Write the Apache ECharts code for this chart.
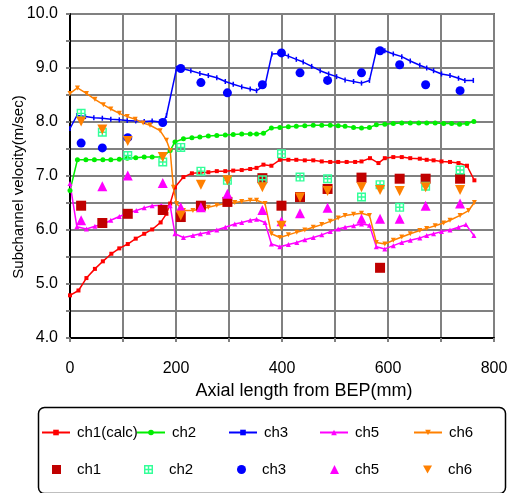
<!DOCTYPE html>
<html>
<head>
<meta charset="utf-8">
<script src="https://cdn.jsdelivr.net/npm/echarts@6/dist/echarts.min.js"></script>
<style>
html, body { margin: 0; padding: 0; background: #fff; }
#chart { width: 511px; height: 493px; }
</style>
</head>
<body>
<div id="chart"></div>
<script>
// calculated profiles [axial length mm, velocity m/s]
var ch1Calc = [[0,4.79],[16,4.88],[31,5.11],[47,5.28],[62,5.42],[78,5.56],[93,5.66],[109,5.74],[124,5.84],[140,5.93],[155,6.01],[171,6.14],[182,6.30],[189,6.49],[198,6.79],[214,6.98],[230,7.05],[246,7.06],[261,7.07],[277,7.09],[293,7.09],[308,7.10],[324,7.11],[340,7.13],[352,7.15],[365,7.21],[380,7.19],[396,7.30],[412,7.30],[427,7.30],[443,7.29],[459,7.29],[475,7.27],[491,7.26],[506,7.26],[522,7.26],[538,7.26],[550,7.27],[566,7.33],[582,7.24],[594,7.33],[610,7.35],[626,7.35],[642,7.33],[660,7.32],[673,7.30],[686,7.29],[701,7.27],[717,7.26],[733,7.24],[749,7.19],[763,6.92]];
var ch2Calc = [[0,6.73],[14,7.30],[30,7.30],[46,7.30],[62,7.30],[77,7.30],[93,7.31],[108,7.33],[124,7.34],[140,7.35],[155,7.35],[173,7.35],[189,7.47],[198,7.63],[214,7.69],[230,7.71],[245,7.72],[261,7.74],[277,7.75],[293,7.76],[308,7.77],[324,7.78],[340,7.78],[352,7.78],[365,7.79],[380,7.89],[396,7.90],[412,7.91],[427,7.92],[443,7.93],[459,7.94],[475,7.94],[491,7.94],[506,7.93],[519,7.92],[535,7.90],[550,7.89],[565,7.90],[578,7.95],[594,7.96],[610,7.97],[626,7.98],[642,7.98],[658,7.98],[673,7.98],[689,7.98],[705,7.97],[720,7.97],[735,7.96],[749,7.97],[762,8.01]];
var ch3Calc = [[0,7.88],[13,8.12],[29,8.10],[45,8.08],[61,8.07],[77,8.05],[93,8.04],[108,8.03],[124,8.02],[140,8.01],[155,8.02],[170,8.00],[176,8.00],[182,8.12],[201,8.99],[211,8.99],[228,8.95],[245,8.90],[261,8.86],[277,8.82],[293,8.75],[308,8.70],[324,8.65],[340,8.61],[352,8.58],[368,8.68],[381,9.26],[396,9.27],[412,9.22],[427,9.16],[440,9.11],[456,9.03],[472,8.95],[488,8.89],[503,8.84],[519,8.78],[535,8.75],[550,8.72],[565,8.77],[578,9.32],[594,9.32],[610,9.26],[626,9.21],[642,9.13],[660,9.05],[673,9.00],[686,8.95],[701,8.89],[717,8.86],[733,8.81],[745,8.77],[761,8.77]];
var ch5Calc = [[0,6.86],[13,6.06],[31,6.02],[47,6.07],[63,6.11],[77,6.18],[93,6.25],[109,6.31],[125,6.36],[140,6.41],[155,6.45],[172,6.46],[189,6.45],[198,5.93],[214,5.86],[232,5.90],[246,5.93],[261,5.96],[277,6.00],[293,6.05],[311,6.11],[324,6.14],[340,6.18],[352,6.20],[368,6.14],[380,5.74],[396,5.69],[412,5.73],[428,5.77],[443,5.82],[459,5.86],[475,5.91],[491,5.97],[506,6.02],[519,6.05],[535,6.08],[550,6.11],[565,6.09],[578,5.69],[594,5.65],[610,5.71],[626,5.77],[642,5.81],[660,5.85],[673,5.90],[686,5.93],[701,5.97],[717,6.00],[733,6.05],[747,6.10],[762,5.90]];
var ch6Calc = [[0,8.53],[14,8.63],[31,8.53],[47,8.42],[63,8.32],[77,8.24],[93,8.16],[108,8.10],[123,8.05],[138,7.98],[151,7.94],[170,7.84],[182,7.66],[189,7.47],[195,6.79],[201,6.49],[214,6.36],[232,6.36],[246,6.39],[261,6.42],[277,6.46],[293,6.49],[311,6.51],[324,6.53],[340,6.55],[352,6.55],[368,6.49],[380,5.93],[396,5.86],[412,5.91],[428,5.96],[443,6.00],[459,6.05],[475,6.10],[491,6.16],[506,6.22],[519,6.27],[535,6.29],[550,6.31],[565,6.27],[578,5.77],[594,5.74],[610,5.81],[626,5.87],[642,5.93],[660,5.99],[673,6.03],[689,6.08],[705,6.13],[717,6.18],[736,6.27],[752,6.36],[763,6.51]];

// measured points
var measX = [21, 61, 109, 175, 209, 247, 297, 363, 399, 434, 486, 550, 585, 622, 671, 736];
var ch1Meas = [6.45, 6.13, 6.30, 6.37, 6.24, 6.45, 6.52, 6.96, 6.45, 6.61, 6.76, 6.97, 5.30, 6.95, 6.95, 6.95];
var ch2Meas = [8.16, 7.81, 7.38, 7.26, 7.53, 7.09, 6.92, 6.93, 7.41, 6.98, 6.95, 6.61, 6.84, 6.42, 6.81, 7.11];
var ch3Meas = [7.61, 7.52, 7.71, 7.99, 8.99, 8.73, 8.54, 8.69, 9.28, 8.91, 8.77, 8.91, 9.32, 9.06, 8.69, 8.58];
var ch5Meas = [6.18, 6.81, 7.01, 6.87, 6.42, 6.42, 6.67, 6.37, 6.16, 6.31, 6.41, 6.21, 6.21, 6.21, 6.45, 6.49];
var ch6Meas = [8.01, 7.86, 7.65, 7.35, 6.27, 6.84, 6.92, 6.79, 6.08, 6.60, 6.72, 6.79, 6.74, 6.72, 6.79, 6.74];

var calcNames = ['ch1(calc)', 'ch2', 'ch3', 'ch5', 'ch6'];
var measNames = ['ch1', 'ch2*', 'ch3*', 'ch5*', 'ch6*'];

var FONT = '"Liberation Sans", Arial, sans-serif';
var gridSym = 'path://M0,0H10V1.6H0Z M0,8.4H10V10H0Z M0,0H1.6V10H0Z M8.4,0H10V10H8.4Z M0,4.2H10V5.8H0Z M4.2,0H5.8V10H4.2Z';
var tickSym = 'path://M0,0H1V5H0Z';
var downTri = 'path://M0,0L10,0L5,9Z';

function pairs(ys) {
    return measX.map(function (x, i) { return [x, ys[i]]; });
}

function calcLine(name, data, color, symbol, size) {
    return {
        name: name, type: 'line', data: data,
        symbol: symbol, symbolSize: size,
        lineStyle: { color: color, width: 1.5 },
        itemStyle: { color: color },
        z: 2
    };
}

function measScatter(name, ys, color, symbol, size) {
    return {
        name: name, type: 'scatter', data: pairs(ys),
        symbol: symbol, symbolSize: size,
        itemStyle: { color: color, opacity: 1 },
        z: 3
    };
}

var myChart = echarts.init(document.getElementById('chart'));

// legend: one component per entry so the columns line up like the original
var lineCols = [41, 136, 228, 319, 413];
var dotCols = [52, 144, 237, 330, 423];
var legends = [];
calcNames.forEach(function (n, i) {
    legends.push({ data: [n], left: lineCols[i], top: 425, padding: 0, itemWidth: 28, itemHeight: 7,
        textStyle: { fontFamily: FONT, fontSize: 15, color: '#000', padding: [0, 0, 0, 2] } });
});
measNames.forEach(function (n, i) {
    legends.push({ data: [n], left: dotCols[i], top: 462, padding: 0, itemWidth: 9, itemHeight: 9,
        textStyle: { fontFamily: FONT, fontSize: 15, color: '#000', padding: [0, 0, 0, 11] } });
});
legends.forEach(function (l) {
    l.formatter = function (name) { return name.replace('*', ''); };
    l.selectedMode = false;
});

var option = {
    animation: false,
    backgroundColor: '#fff',
    textStyle: { fontFamily: FONT },
    grid: { left: 70, right: 17, top: 14, bottom: 155, show: true, borderColor: '#000', borderWidth: 1.5,
        containLabel: false, outerBoundsMode: 'none' },
    legend: legends,
    graphic: [{
        type: 'rect', left: 36, top: 405,
        shape: { width: 467, height: 86, r: 6 },
        style: { fill: 'none', stroke: '#000', lineWidth: 1.5 }
    }],
    xAxis: {
        type: 'value', min: 0, max: 800, interval: 100,
        name: 'Axial length from BEP(mm)', nameLocation: 'middle', nameGap: 38,
        nameTextStyle: { fontSize: 18, color: '#000', fontFamily: FONT, padding: [0, 0, 0, 44] },
        axisLine: { lineStyle: { color: '#000', width: 2 } },
        axisTick: { show: true, length: 4, lineStyle: { color: '#808080', width: 2 } },
        axisLabel: {
            fontSize: 16, color: '#000', margin: 23,
            formatter: function (v) { return v % 200 === 0 ? String(v) : ''; }
        },
        splitLine: { show: true, lineStyle: { color: '#808080', width: 2 } }
    },
    yAxis: {
        type: 'value', min: 4, max: 10, interval: 0.5,
        name: 'Subchannel velocity(m/sec)', nameLocation: 'middle', nameGap: 44, nameMoveOverlap: false,
        nameTextStyle: { fontSize: 15, color: '#000', fontFamily: FONT, padding: [0, 22, 0, 0] },
        axisLine: { lineStyle: { color: '#000', width: 2 } },
        axisTick: { show: true, length: 4, lineStyle: { color: '#808080', width: 2 } },
        axisLabel: {
            fontSize: 16, color: '#000', margin: 12,
            formatter: function (v) { return Math.abs(v - Math.round(v)) < 1e-6 ? v.toFixed(1) : ''; }
        },
        splitLine: { show: true, lineStyle: { color: '#808080', width: 2 } }
    },
    series: [
        calcLine(calcNames[0], ch1Calc, '#ff0000', 'rect', 4),
        calcLine(calcNames[1], ch2Calc, '#00ee00', 'circle', 5),
        calcLine(calcNames[2], ch3Calc, '#0000ff', tickSym, [1.5, 5]),
        calcLine(calcNames[3], ch5Calc, '#ff00ff', 'triangle', 5),
        calcLine(calcNames[4], ch6Calc, '#ff8000', downTri, 5),
        measScatter(measNames[0], ch1Meas, '#c00000', 'rect', 10),
        measScatter(measNames[1], ch2Meas, '#33ff99', gridSym, 9),
        measScatter(measNames[2], ch3Meas, '#0000ff', 'circle', 9),
        measScatter(measNames[3], ch5Meas, '#ff00ff', 'triangle', 10),
        measScatter(measNames[4], ch6Meas, '#ff8000', downTri, 10)
    ]
};

myChart.setOption(option);
</script>
</body>
</html>
